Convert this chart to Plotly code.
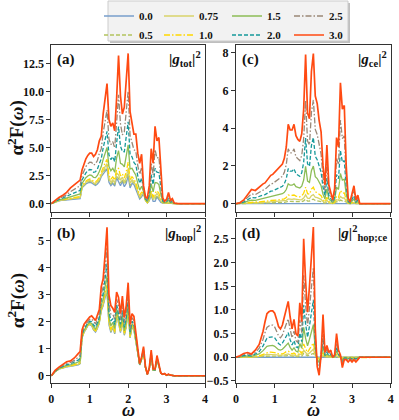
import plotly.graph_objects as go
from plotly.subplots import make_subplots

# omega grid shared by all curves
omega = [0.0, 0.1, 0.2, 0.3, 0.4, 0.5, 0.6, 0.7, 0.75, 0.8, 0.85, 0.9, 0.95, 1.0,
         1.05, 1.1, 1.15, 1.2, 1.25, 1.3, 1.35, 1.4, 1.45, 1.5, 1.55, 1.6, 1.65, 1.7,
         1.75, 1.8, 1.85, 1.9, 1.95, 2.0, 2.05, 2.1, 2.15, 2.2, 2.25, 2.3, 2.35, 2.4,
         2.45, 2.5, 2.55, 2.6, 2.65, 2.7, 2.75, 2.8, 2.85, 2.9, 2.95, 3.0, 3.05, 3.1,
         3.15, 3.2, 3.3, 4.0]
omega_flat = [0.0, 4.0]
lambdas = ["0.0", "0.5", "0.75", "1.0", "1.5", "2.0", "2.5", "3.0"]

# (a) |g_tot|^2
tot_00 = [0, 0.15, 0.25, 0.3, 0.33, 0.35, 0.38, 0.4, 0.45, 1.4, 1.6, 1.75, 1.85, 1.9, 1.85, 1.7, 1.62, 1.75, 1.95, 2.4, 2.6, 2.9, 3.1, 1.9, 1.6, 1.8, 1.55, 2.3, 1.9, 1.6, 2.0, 1.5, 1.8, 2.5, 1.4, 1.8, 1.7, 1.3, 0.9, 0.4, 0.6, 0.9, 0.3, 0.05, 0.25, 0.75, 0.2, 0.2, 0.6, 0.3, 0.1, 0.05, 0.06, 0.02, 0.05, 0.02, 0, 0, 0, 0]
tot_05 = [0, 0.15, 0.26, 0.31, 0.35, 0.38, 0.42, 0.45, 0.5, 1.45, 1.66, 1.82, 1.92, 1.98, 1.93, 1.78, 1.7, 1.84, 2.06, 2.51, 2.76, 3.1, 3.33, 2.07, 1.76, 1.96, 1.7, 2.51, 2.24, 1.84, 2.18, 1.71, 2.08, 2.83, 1.6, 1.96, 1.84, 1.45, 1.01, 0.5, 0.71, 0.92, 0.31, 0.06, 0.29, 0.87, 0.3, 0.4, 0.75, 0.47, 0.19, 0.06, 0.06, 0.03, 0.08, 0.03, 0.01, 0, 0, 0]
tot_075 = [0, 0.16, 0.27, 0.33, 0.37, 0.41, 0.46, 0.49, 0.55, 1.5, 1.72, 1.89, 2.0, 2.06, 2.01, 1.85, 1.79, 1.93, 2.17, 2.62, 2.92, 3.3, 3.56, 2.24, 1.92, 2.12, 1.85, 2.73, 2.58, 2.08, 2.36, 1.93, 2.36, 3.15, 1.81, 2.12, 1.97, 1.59, 1.12, 0.59, 0.83, 0.94, 0.32, 0.08, 0.33, 1.0, 0.4, 0.6, 0.9, 0.64, 0.27, 0.08, 0.07, 0.04, 0.11, 0.04, 0.03, 0, 0, 0]
tot_10 = [0, 0.17, 0.28, 0.35, 0.4, 0.47, 0.53, 0.57, 0.63, 1.58, 1.82, 2.0, 2.12, 2.19, 2.14, 1.98, 1.93, 2.09, 2.35, 2.8, 3.19, 3.63, 3.94, 2.52, 2.18, 2.39, 2.09, 3.08, 3.14, 2.48, 2.66, 2.28, 2.83, 3.7, 2.15, 2.39, 2.2, 1.84, 1.3, 0.75, 1.02, 0.98, 0.33, 0.1, 0.4, 1.21, 0.57, 0.94, 1.15, 0.92, 0.42, 0.1, 0.08, 0.06, 0.15, 0.05, 0.05, 0.01, 0, 0]
tot_15 = [0, 0.19, 0.33, 0.41, 0.5, 0.61, 0.71, 0.79, 0.86, 1.8, 2.1, 2.31, 2.46, 2.55, 2.51, 2.33, 2.32, 2.51, 2.86, 3.3, 3.95, 4.55, 5.0, 3.3, 2.93, 3.15, 2.79, 4.08, 4.73, 3.6, 3.5, 3.28, 4.15, 5.23, 3.1, 3.15, 2.83, 2.53, 1.8, 1.2, 1.55, 1.08, 0.38, 0.16, 0.59, 1.79, 1.05, 1.88, 1.85, 1.7, 0.83, 0.16, 0.1, 0.12, 0.29, 0.09, 0.11, 0.01, 0, 0]
tot_20 = [0, 0.22, 0.38, 0.5, 0.62, 0.81, 0.96, 1.08, 1.18, 2.1, 2.48, 2.74, 2.93, 3.04, 3.02, 2.8, 2.84, 3.09, 3.56, 3.98, 4.98, 5.8, 6.44, 4.36, 3.93, 4.18, 3.73, 5.42, 6.87, 5.12, 4.64, 4.62, 5.94, 7.3, 4.39, 4.18, 3.68, 3.46, 2.48, 1.81, 2.27, 1.21, 0.43, 0.25, 0.84, 2.58, 1.7, 3.15, 2.8, 2.76, 1.38, 0.25, 0.12, 0.19, 0.47, 0.14, 0.2, 0.02, 0, 0]
tot_25 = [0, 0.25, 0.46, 0.61, 0.79, 1.07, 1.29, 1.47, 1.59, 2.5, 2.98, 3.3, 3.54, 3.69, 3.68, 3.43, 3.54, 3.85, 4.47, 4.88, 6.33, 7.45, 8.34, 5.76, 5.26, 5.53, 4.97, 7.2, 9.7, 7.12, 6.14, 6.4, 8.29, 10.02, 6.09, 5.53, 4.81, 4.68, 3.38, 2.61, 3.22, 1.38, 0.51, 0.36, 1.18, 3.61, 2.55, 4.82, 4.05, 4.16, 2.1, 0.36, 0.16, 0.28, 0.71, 0.21, 0.31, 0.03, 0, 0]
tot_30 = [0, 0.3, 0.55, 0.75, 1.0, 1.4, 1.7, 1.95, 2.1, 3.0, 3.6, 4.0, 4.3, 4.5, 4.5, 4.2, 4.4, 4.8, 5.6, 6.0, 8.0, 9.5, 10.7, 7.5, 6.9, 7.2, 6.5, 9.4, 13.2, 9.6, 8.0, 8.6, 11.2, 13.4, 8.2, 7.2, 6.2, 6.2, 4.5, 3.6, 4.4, 1.6, 0.6, 0.5, 1.6, 4.9, 3.6, 6.9, 5.6, 5.9, 3.0, 0.5, 0.2, 0.4, 1.0, 0.3, 0.45, 0.05, 0, 0]

# (b) |g_hop|^2
hop_00 = [0, 0.15, 0.25, 0.3, 0.33, 0.35, 0.38, 0.4, 0.45, 1.4, 1.6, 1.75, 1.85, 1.9, 1.85, 1.7, 1.62, 1.75, 1.95, 2.4, 2.6, 2.9, 3.1, 1.9, 1.6, 1.8, 1.55, 2.3, 1.9, 1.6, 2.0, 1.5, 1.8, 2.5, 1.4, 1.8, 1.7, 1.3, 0.9, 0.4, 0.6, 0.9, 0.3, 0.05, 0.25, 0.75, 0.2, 0.2, 0.6, 0.3, 0.1, 0.05, 0.06, 0.02, 0.05, 0.02, 0, 0, 0, 0]
hop_05 = [0, 0.15, 0.25, 0.3, 0.34, 0.36, 0.39, 0.41, 0.46, 1.41, 1.61, 1.76, 1.86, 1.91, 1.86, 1.71, 1.63, 1.77, 1.97, 2.43, 2.63, 2.95, 3.17, 1.93, 1.63, 1.82, 1.57, 2.32, 1.93, 1.62, 2.03, 1.52, 1.82, 2.53, 1.42, 1.82, 1.72, 1.31, 0.91, 0.4, 0.6, 0.91, 0.3, 0.05, 0.25, 0.76, 0.2, 0.2, 0.6, 0.3, 0.1, 0.05, 0.06, 0.02, 0.05, 0.02, 0, 0, 0, 0]
hop_075 = [0, 0.15, 0.25, 0.31, 0.34, 0.36, 0.4, 0.43, 0.48, 1.42, 1.62, 1.77, 1.87, 1.92, 1.87, 1.73, 1.65, 1.78, 1.98, 2.45, 2.66, 3.0, 3.24, 1.97, 1.66, 1.84, 1.6, 2.35, 1.96, 1.64, 2.06, 1.54, 1.85, 2.56, 1.43, 1.83, 1.73, 1.32, 0.91, 0.4, 0.61, 0.91, 0.3, 0.05, 0.25, 0.76, 0.2, 0.2, 0.61, 0.3, 0.1, 0.05, 0.06, 0.02, 0.05, 0.02, 0, 0, 0, 0]
hop_10 = [0, 0.16, 0.26, 0.31, 0.35, 0.37, 0.41, 0.45, 0.5, 1.43, 1.63, 1.78, 1.88, 1.93, 1.89, 1.75, 1.67, 1.81, 2.0, 2.5, 2.71, 3.08, 3.36, 2.02, 1.71, 1.88, 1.64, 2.39, 2.01, 1.68, 2.1, 1.57, 1.89, 2.6, 1.46, 1.86, 1.76, 1.33, 0.92, 0.41, 0.61, 0.92, 0.31, 0.05, 0.26, 0.77, 0.21, 0.21, 0.62, 0.31, 0.1, 0.05, 0.06, 0.02, 0.05, 0.02, 0, 0, 0, 0]
hop_15 = [0, 0.16, 0.27, 0.33, 0.38, 0.4, 0.45, 0.51, 0.56, 1.48, 1.68, 1.81, 1.91, 1.97, 1.94, 1.81, 1.73, 1.88, 2.08, 2.63, 2.85, 3.3, 3.7, 2.18, 1.85, 1.98, 1.75, 2.5, 2.15, 1.78, 2.24, 1.66, 2.0, 2.74, 1.53, 1.93, 1.83, 1.38, 0.95, 0.41, 0.63, 0.95, 0.31, 0.05, 0.26, 0.8, 0.21, 0.21, 0.64, 0.31, 0.1, 0.05, 0.07, 0.02, 0.05, 0.02, 0, 0, 0, 0]
hop_20 = [0, 0.17, 0.28, 0.35, 0.41, 0.44, 0.5, 0.58, 0.65, 1.53, 1.73, 1.86, 1.96, 2.02, 2.01, 1.88, 1.81, 1.97, 2.17, 2.8, 3.04, 3.6, 4.16, 2.38, 2.04, 2.11, 1.9, 2.65, 2.34, 1.91, 2.42, 1.79, 2.15, 2.92, 1.62, 2.02, 1.92, 1.43, 0.99, 0.42, 0.64, 0.98, 0.32, 0.05, 0.27, 0.84, 0.22, 0.22, 0.67, 0.32, 0.1, 0.05, 0.07, 0.02, 0.05, 0.02, 0, 0, 0, 0]
hop_25 = [0, 0.18, 0.3, 0.38, 0.46, 0.49, 0.57, 0.69, 0.76, 1.61, 1.81, 1.92, 2.02, 2.09, 2.11, 1.99, 1.92, 2.1, 2.3, 3.02, 3.29, 4.0, 4.76, 2.66, 2.29, 2.28, 2.1, 2.85, 2.59, 2.08, 2.66, 1.95, 2.35, 3.16, 1.75, 2.15, 2.05, 1.51, 1.04, 0.43, 0.67, 1.02, 0.33, 0.05, 0.28, 0.89, 0.23, 0.23, 0.7, 0.33, 0.1, 0.05, 0.07, 0.02, 0.06, 0.02, 0, 0, 0, 0]
hop_30 = [0, 0.2, 0.32, 0.42, 0.52, 0.55, 0.66, 0.82, 0.9, 1.7, 1.9, 2.0, 2.1, 2.18, 2.22, 2.12, 2.05, 2.25, 2.45, 3.3, 3.6, 4.5, 5.5, 3.0, 2.6, 2.5, 2.35, 3.1, 2.9, 2.3, 2.95, 2.15, 2.6, 3.45, 1.9, 2.3, 2.2, 1.6, 1.1, 0.45, 0.7, 1.08, 0.35, 0.05, 0.3, 0.95, 0.25, 0.25, 0.75, 0.35, 0.1, 0.05, 0.08, 0.02, 0.06, 0.02, 0, 0, 0, 0]

# (c) |g_ce|^2
ce_00 = [0, 0]
ce_05 = [0, 0, 0.01, 0.02, 0.02, 0.02, 0.03, 0.03, 0.03, 0.04, 0.04, 0.05, 0.05, 0.05, 0.05, 0.06, 0.06, 0.06, 0.07, 0.09, 0.13, 0.12, 0.12, 0.13, 0.11, 0.1, 0.1, 0.11, 0.15, 0.24, 0.14, 0.14, 0.21, 0.24, 0.17, 0.16, 0.13, 0.11, 0.06, 0.03, 0.09, 0.03, 0.02, 0.01, 0.02, 0.11, 0.09, 0.19, 0.15, 0.16, 0.06, 0.01, 0, 0.02, 0.03, 0.01, 0.01, 0, 0, 0]
ce_075 = [0, 0, 0.01, 0.03, 0.05, 0.04, 0.05, 0.06, 0.07, 0.08, 0.08, 0.09, 0.09, 0.1, 0.11, 0.11, 0.12, 0.13, 0.14, 0.18, 0.25, 0.23, 0.23, 0.25, 0.22, 0.2, 0.2, 0.22, 0.3, 0.47, 0.29, 0.27, 0.42, 0.48, 0.34, 0.32, 0.26, 0.23, 0.12, 0.06, 0.19, 0.06, 0.04, 0.01, 0.05, 0.21, 0.18, 0.38, 0.3, 0.31, 0.12, 0.02, 0.01, 0.03, 0.06, 0.01, 0.03, 0, 0, 0]
ce_10 = [0, 0.01, 0.02, 0.06, 0.08, 0.08, 0.1, 0.12, 0.12, 0.14, 0.15, 0.17, 0.17, 0.18, 0.19, 0.2, 0.22, 0.23, 0.26, 0.33, 0.46, 0.43, 0.43, 0.46, 0.4, 0.37, 0.36, 0.41, 0.55, 0.87, 0.53, 0.5, 0.77, 0.87, 0.63, 0.58, 0.48, 0.42, 0.22, 0.11, 0.34, 0.11, 0.07, 0.02, 0.09, 0.39, 0.33, 0.7, 0.55, 0.57, 0.22, 0.03, 0.01, 0.06, 0.1, 0.02, 0.05, 0, 0, 0]
ce_15 = [0, 0.01, 0.05, 0.13, 0.19, 0.18, 0.23, 0.26, 0.28, 0.31, 0.34, 0.38, 0.39, 0.41, 0.44, 0.46, 0.5, 0.53, 0.6, 0.75, 1.05, 0.98, 0.98, 1.05, 0.9, 0.85, 0.83, 0.93, 1.25, 1.98, 1.2, 1.13, 1.75, 1.99, 1.43, 1.33, 1.1, 0.95, 0.5, 0.25, 0.78, 0.25, 0.15, 0.05, 0.2, 0.88, 0.75, 1.6, 1.25, 1.3, 0.5, 0.08, 0.03, 0.13, 0.24, 0.05, 0.11, 0, 0, 0]
ce_20 = [0, 0.02, 0.09, 0.22, 0.33, 0.31, 0.4, 0.46, 0.48, 0.55, 0.59, 0.66, 0.68, 0.73, 0.77, 0.81, 0.88, 0.92, 1.06, 1.32, 1.85, 1.72, 1.72, 1.85, 1.58, 1.5, 1.45, 1.63, 2.2, 3.48, 2.11, 1.98, 3.08, 3.5, 2.51, 2.33, 1.94, 1.67, 0.88, 0.44, 1.36, 0.44, 0.26, 0.09, 0.35, 1.54, 1.32, 2.82, 2.2, 2.29, 0.88, 0.13, 0.04, 0.22, 0.42, 0.09, 0.2, 0, 0, 0]
ce_25 = [0, 0.03, 0.14, 0.35, 0.52, 0.48, 0.62, 0.72, 0.76, 0.86, 0.93, 1.04, 1.07, 1.14, 1.21, 1.28, 1.38, 1.45, 1.66, 2.07, 2.9, 2.69, 2.69, 2.9, 2.48, 2.35, 2.28, 2.55, 3.45, 5.45, 3.31, 3.11, 4.83, 5.49, 3.93, 3.66, 3.04, 2.62, 1.38, 0.69, 2.14, 0.69, 0.41, 0.14, 0.55, 2.42, 2.07, 4.42, 3.45, 3.59, 1.38, 0.21, 0.07, 0.35, 0.66, 0.14, 0.31, 0, 0, 0]
ce_30 = [0, 0.05, 0.2, 0.5, 0.75, 0.7, 0.9, 1.05, 1.1, 1.25, 1.35, 1.5, 1.55, 1.65, 1.75, 1.85, 2.0, 2.1, 2.4, 3.0, 4.2, 3.9, 3.9, 4.2, 3.6, 3.4, 3.3, 3.7, 5.0, 7.9, 4.8, 4.5, 7.0, 7.95, 5.7, 5.3, 4.4, 3.8, 2.0, 1.0, 3.1, 1.0, 0.6, 0.2, 0.8, 3.5, 3.0, 6.4, 5.0, 5.2, 2.0, 0.3, 0.1, 0.5, 0.95, 0.2, 0.45, 0, 0, 0]

# (d) |g|^2_hop;ce
hc_00 = [0, 0]
hc_05 = [0, 0, 0, 0, 0, 0, 0.01, 0.02, 0.02, 0.03, 0.03, 0.03, 0.03, 0.03, 0.02, 0.02, 0.02, 0.02, 0.03, 0.03, 0.04, 0.03, 0.02, 0.02, 0.02, 0.01, 0.03, 0.02, 0.08, 0.05, 0.03, 0.05, 0.07, 0.08, 0.02, -0.01, -0.01, 0, 0.03, 0, 0.01, 0, 0, 0, 0, 0.02, 0, 0, -0.01, 0, 0, 0, 0, 0, 0, 0, 0, 0, 0, 0]
hc_075 = [0, 0, 0, 0.01, 0, 0.01, 0.02, 0.03, 0.05, 0.06, 0.06, 0.06, 0.06, 0.06, 0.05, 0.04, 0.04, 0.04, 0.05, 0.06, 0.07, 0.05, 0.04, 0.05, 0.03, 0.03, 0.07, 0.05, 0.15, 0.1, 0.06, 0.09, 0.13, 0.17, 0.04, -0.01, -0.02, 0, 0.05, 0.01, 0.02, 0.01, 0.01, 0, 0, 0.03, 0.01, 0, -0.01, 0, 0, -0.01, 0, -0.01, 0, -0.01, 0, 0, 0, 0]
hc_10 = [0, 0, 0.01, 0.01, 0.01, 0.02, 0.03, 0.06, 0.08, 0.1, 0.11, 0.11, 0.11, 0.1, 0.09, 0.07, 0.07, 0.07, 0.09, 0.12, 0.13, 0.09, 0.07, 0.09, 0.06, 0.05, 0.13, 0.08, 0.28, 0.18, 0.1, 0.17, 0.24, 0.3, 0.07, -0.02, -0.04, 0.01, 0.1, 0.01, 0.03, 0.01, 0.02, 0, 0.01, 0.06, 0.02, 0.01, -0.02, -0.01, -0.01, -0.01, -0.01, -0.01, -0.01, -0.01, -0.01, 0, 0, 0]
hc_15 = [0, 0.01, 0.02, 0.03, 0.02, 0.04, 0.07, 0.14, 0.19, 0.23, 0.24, 0.25, 0.25, 0.23, 0.2, 0.16, 0.15, 0.17, 0.21, 0.26, 0.3, 0.21, 0.15, 0.2, 0.13, 0.11, 0.29, 0.19, 0.63, 0.4, 0.24, 0.38, 0.55, 0.69, 0.15, -0.05, -0.1, 0.01, 0.23, 0.03, 0.06, 0.03, 0.04, 0, 0.01, 0.13, 0.04, 0.01, -0.06, -0.01, -0.01, -0.03, -0.01, -0.03, -0.01, -0.03, -0.01, 0, 0, 0]
hc_20 = [0, 0.01, 0.04, 0.04, 0.03, 0.07, 0.12, 0.24, 0.33, 0.4, 0.42, 0.43, 0.43, 0.41, 0.35, 0.29, 0.26, 0.3, 0.37, 0.46, 0.52, 0.37, 0.26, 0.35, 0.22, 0.2, 0.51, 0.33, 1.1, 0.7, 0.42, 0.66, 0.97, 1.21, 0.26, -0.09, -0.17, 0.02, 0.4, 0.04, 0.11, 0.04, 0.07, 0, 0.02, 0.22, 0.07, 0.02, -0.1, -0.02, -0.02, -0.04, -0.02, -0.04, -0.02, -0.04, -0.02, 0, 0, 0]
hc_25 = [0, 0.02, 0.06, 0.07, 0.05, 0.1, 0.19, 0.38, 0.52, 0.63, 0.66, 0.68, 0.68, 0.64, 0.55, 0.45, 0.41, 0.47, 0.59, 0.72, 0.81, 0.59, 0.41, 0.55, 0.35, 0.31, 0.79, 0.52, 1.73, 1.1, 0.66, 1.04, 1.52, 1.9, 0.41, -0.14, -0.26, 0.03, 0.62, 0.07, 0.17, 0.07, 0.1, 0, 0.03, 0.35, 0.1, 0.03, -0.15, -0.03, -0.03, -0.07, -0.03, -0.07, -0.03, -0.07, -0.03, 0, 0, 0]
hc_30 = [0, 0.03, 0.08, 0.1, 0.07, 0.15, 0.27, 0.55, 0.75, 0.92, 0.96, 0.98, 0.98, 0.93, 0.8, 0.65, 0.6, 0.68, 0.85, 1.05, 1.18, 0.85, 0.6, 0.8, 0.5, 0.45, 1.15, 0.75, 2.5, 1.6, 0.95, 1.5, 2.2, 2.75, 0.6, -0.2, -0.38, 0.05, 0.9, 0.1, 0.25, 0.1, 0.15, 0, 0.05, 0.5, 0.15, 0.05, -0.22, -0.05, -0.05, -0.1, -0.05, -0.1, -0.05, -0.1, -0.05, 0, 0, 0]

# style for each lambda
colors = ["#779ecb", "#b3c35e", "#d8d36a", "#ffd800", "#8dbd56", "#16999a", "#9a8877", "#ff4a12"]
dashes = ["solid", "4px,2px", "solid", "6px,2px,1.5px,2px", "solid", "4px,2px", "6px,2px,1.5px,2px", "solid"]
widths = [1.3, 1.3, 1.3, 1.3, 1.3, 1.3, 1.3, 1.7]
legend_of = ["legend", "legend", "legend2", "legend2", "legend3", "legend3", "legend4", "legend4"]

panels = [
    (1, 1, [tot_00, tot_05, tot_075, tot_10, tot_15, tot_20, tot_25, tot_30]),
    (2, 1, [hop_00, hop_05, hop_075, hop_10, hop_15, hop_20, hop_25, hop_30]),
    (1, 2, [ce_00, ce_05, ce_075, ce_10, ce_15, ce_20, ce_25, ce_30]),
    (2, 2, [hc_00, hc_05, hc_075, hc_10, hc_15, hc_20, hc_25, hc_30]),
]

fig = make_subplots(rows=2, cols=2)
for r, c, series in panels:
    for k, ys in enumerate(series):
        xs = omega_flat if len(ys) == 2 else omega
        fig.add_trace(go.Scatter(
            x=xs, y=ys, mode="lines", name=lambdas[k],
            line=dict(color=colors[k], dash=dashes[k], width=widths[k]),
            showlegend=(r == 1 and c == 1), legend=legend_of[k],
        ), row=r, col=c)

FONT = "Liberation Serif"
axis_style = dict(showline=True, mirror=True, linecolor="#333", linewidth=1,
                  ticks="outside", ticklen=4, tickcolor="#333", showgrid=False,
                  zeroline=False, automargin=False,
                  tickfont=dict(family=FONT, size=12, weight="bold", color="#111"))

xl = [51.3 / 399, 205 / 399]
xr = [236 / 399, 390.7 / 399]
yt = [1 - 212 / 420, 1 - 45 / 420]
yb = [1 - 383.3 / 420, 1 - 219 / 420]

fig.update_layout(
    xaxis=dict(domain=xl, range=[0, 4], dtick=1, showticklabels=False, **axis_style),
    xaxis2=dict(domain=xr, range=[0, 4], dtick=1, showticklabels=False, **axis_style),
    xaxis3=dict(domain=xl, range=[0, 4], dtick=1, **axis_style),
    xaxis4=dict(domain=xr, range=[0, 4], dtick=1, **axis_style),
    yaxis=dict(domain=yt, range=[-0.75, 14.15], dtick=2.5, tickformat=".1f", **axis_style),
    yaxis2=dict(domain=yt, range=[-0.44, 8.4], dtick=2, **axis_style),
    yaxis3=dict(domain=yb, range=[-0.28, 5.81], dtick=1, **axis_style),
    yaxis4=dict(domain=yb, range=[-0.55, 2.92], dtick=0.5, tickformat=".1f", **axis_style),
)

labels = [("x", "y", "(a)", "|<i>g</i><sub>tot</sub>|<sup>2</sup>"),
          ("x2", "y2", "(c)", "|<i>g</i><sub>ce</sub>|<sup>2</sup>"),
          ("x3", "y3", "(b)", "|<i>g</i><sub>hop</sub>|<sup>2</sup>"),
          ("x4", "y4", "(d)", "|<i>g</i>|<sup>2</sup><sub>hop;ce</sub>")]
for xa, ya, tag, name in labels:
    fig.add_annotation(x=0.025, y=0.975, xref=xa + " domain", yref=ya + " domain",
                       text="<b>" + tag + "</b>", showarrow=False, xanchor="left", yanchor="top",
                       font=dict(family=FONT, size=15, color="#111"))
    fig.add_annotation(x=0.99, y=0.99, xref=xa + " domain", yref=ya + " domain",
                       text="<b>" + name + "</b>", showarrow=False, xanchor="right", yanchor="top",
                       font=dict(family=FONT, size=15, color="#111"))

for yc in [(yt[0] + yt[1]) / 2, (yb[0] + yb[1]) / 2]:
    fig.add_annotation(x=16 / 399, y=yc, xref="paper", yref="paper", textangle=-90,
                       xanchor="center", yanchor="middle",
                       text="<b>α<sup>2</sup>F(<i>ω</i>)</b>", showarrow=False,
                       font=dict(family=FONT, size=19, color="#111"))
for xc in [(xl[0] + xl[1]) / 2, (xr[0] + xr[1]) / 2]:
    fig.add_annotation(x=xc, y=1 - 410 / 420, xref="paper", yref="paper",
                       xanchor="center", yanchor="middle",
                       text="<b><i>ω</i></b>", showarrow=False,
                       font=dict(family=FONT, size=18, color="#111"))

# legend frame with a soft shadow, four two-entry columns inside
fig.add_shape(type="rect", xref="paper", yref="paper", x0=110 / 399, x1=350 / 399,
              y0=1 - 43 / 420, y1=1 - 3 / 420, line=dict(width=0), fillcolor="rgba(0,0,0,0.25)")
fig.add_shape(type="rect", xref="paper", yref="paper", x0=108 / 399, x1=348 / 399,
              y0=1 - 41 / 420, y1=1 - 1 / 420, line=dict(color="#cccccc", width=1),
              fillcolor="#f2f2f2")
leg_style = dict(orientation="v", yanchor="top", xanchor="left", y=1 - 1.5 / 420,
                 bgcolor="rgba(0,0,0,0)", borderwidth=0, itemwidth=30, tracegroupgap=0,
                 font=dict(family=FONT, size=11, weight="bold", color="#111"))
fig.update_layout(
    legend=dict(x=99 / 399, **leg_style),
    legend2=dict(x=159 / 399, **leg_style),
    legend3=dict(x=227 / 399, **leg_style),
    legend4=dict(x=289 / 399, **leg_style),
)

fig.update_layout(
    width=399, height=420,
    margin=dict(l=0, r=0, t=0, b=0, autoexpand=False),
    paper_bgcolor="white", plot_bgcolor="white",
)

# the page's default body margin would push the 399x420 figure off the window
fig.write_html("out.html", config={"displayModeBar": False},
               post_script="document.body.style.margin = '0';")
